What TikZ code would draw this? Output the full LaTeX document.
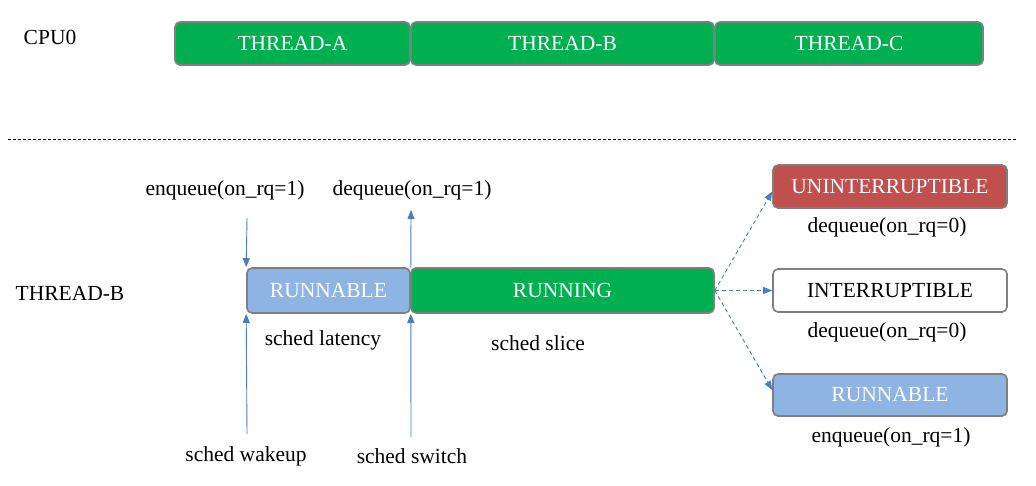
\documentclass[tikz,border=0pt]{standalone}
\usepackage{fontspec}
\setmainfont{Liberation Serif}
\usetikzlibrary{arrows.meta}
\definecolor{grn}{HTML}{00B050}
\definecolor{blu}{HTML}{8EB4E3}
\definecolor{rd}{HTML}{C0504D}
\definecolor{edge}{HTML}{7F7F7F}
\definecolor{arrc}{HTML}{4A7EBB}
\tikzset{
  box/.style={draw=edge, line width=1.6pt, rounded corners=5pt, inner sep=0pt, font=\fontsize{21.5}{25}\selectfont},
  gbox/.style={box, fill=grn, text=white},
  bbox/.style={box, fill=blu, text=white},
  rbox/.style={box, fill=rd, text=white},
  wbox/.style={box, fill=white, text=black},
  lbl/.style={inner sep=0pt, font=\fontsize{21.5}{25}\selectfont},
  arr/.style={draw=arrc, line width=0.9pt, -{Triangle[length=9pt,width=7pt]}},
  darr/.style={arr, dashed, dash pattern=on 4pt off 3pt}
}
\begin{document}
\begin{tikzpicture}[x=1pt,y=-1pt]
\useasboundingbox (0,0) rectangle (1036,485);
% CPU row
\node[lbl] (cpu) at (50,37) {CPU0};
\node[gbox, minimum width=235pt, minimum height=43pt] (ta) at (292.5,43.5) {THREAD-A};
\node[gbox, minimum width=303pt, minimum height=43pt] (tb) at (562.5,43.5) {THREAD-B};
\node[gbox, minimum width=268pt, minimum height=43pt] (tc) at (849,43.5) {THREAD-C};
% separator
\coordinate (sepL) at (8,139);
\coordinate (sepR) at (1016,139);
\draw[black, line width=0.7pt, dash pattern=on 3pt off 2pt] (sepL) -- (sepR);
% thread-B row
\node[lbl] (thb) at (70,293) {THREAD-B};
\node[bbox, minimum width=163pt, minimum height=45pt] (rb) at (328.5,290.5) {RUNNABLE};
\node[gbox, minimum width=303pt, minimum height=45pt] (run) at (562.5,290.5) {RUNNING};
\node[lbl] (enq) at (225,190) {enqueue(on\_rq=1)};
\node[lbl] (deq) at (412,190) {dequeue(on\_rq=1)};
\node[lbl] (lat) at (323,340) {sched latency};
\node[lbl] (slc) at (538,343) {sched slice};
\node[lbl] (wak) at (246,456) {sched wakeup};
\node[lbl] (swt) at (412,456) {sched switch};
\coordinate (enqS) at (247,218);
\coordinate (deqE) at (411,210);
\coordinate (wakS) at (247,434);
\coordinate (swtS) at (411,437);
\draw[arr] (enqS) -- (rb.north west);
\draw[arr] (rb.north east) -- (deqE);
\draw[arr] (wakS) -- (rb.south west);
\draw[arr] (swtS) -- (rb.south east);
% right states
\node[rbox, minimum width=234pt, minimum height=43pt] (un) at (890,186.5) {UNINTERRUPTIBLE};
\node[wbox, minimum width=234pt, minimum height=43pt] (in) at (890,290.5) {INTERRUPTIBLE};
\node[bbox, minimum width=234pt, minimum height=42pt] (rb2) at (890,395) {RUNNABLE};
\node[lbl] (d1) at (887,227) {dequeue(on\_rq=0)};
\node[lbl] (d2) at (887,332) {dequeue(on\_rq=0)};
\node[lbl] (e2) at (891,437) {enqueue(on\_rq=1)};
\draw[darr] (run.east) -- ([yshift=-5pt]un.west);
\draw[darr] (run.east) -- (in.west);
\draw[darr] (run.east) -- ([yshift=5pt]rb2.west);
\end{tikzpicture}
\end{document}
